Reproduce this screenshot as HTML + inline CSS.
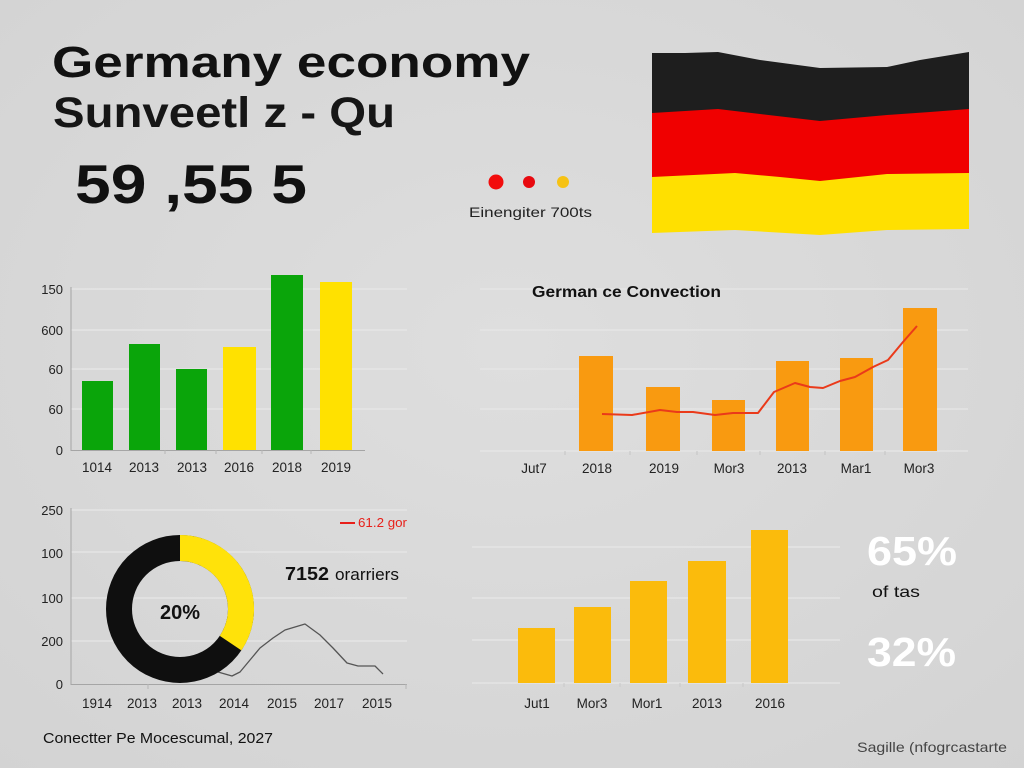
<!DOCTYPE html>
<html><head><meta charset="utf-8"><style>
html,body{margin:0;padding:0;background:#d9d9d9;}
svg{display:block;}
text{font-family:"Liberation Sans",sans-serif;}
</style></head><body>
<svg width="1024" height="768" viewBox="0 0 1024 768" xmlns="http://www.w3.org/2000/svg">
<defs>
<radialGradient id="bg" cx="50%" cy="45%" r="75%">
<stop offset="0" stop-color="#dedede"/><stop offset="1" stop-color="#d3d3d3"/>
</radialGradient>
</defs>
<rect width="1024" height="768" fill="url(#bg)"/>

<!-- Header -->
<text x="52" y="77" font-size="44" font-weight="bold" fill="#111" textLength="478" lengthAdjust="spacingAndGlyphs">Germany economy</text>
<text x="53" y="127" font-size="43" font-weight="bold" fill="#161616" textLength="342" lengthAdjust="spacingAndGlyphs">Sunveetl z - Qu</text>
<text x="75" y="203" font-size="55" font-weight="bold" fill="#111" textLength="232" lengthAdjust="spacingAndGlyphs">59 ,55 5</text>

<circle cx="496" cy="182" r="7.5" fill="#f20d0d"/>
<circle cx="529" cy="182" r="6" fill="#e8090f"/>
<circle cx="563" cy="182" r="6" fill="#f6c214"/>
<text x="469" y="217" font-size="14" fill="#222" textLength="123" lengthAdjust="spacingAndGlyphs">Einengiter 700ts</text>

<!-- Flag -->
<polygon fill="#1e1e1e" points="652,53 685,53 718,52 760,60 820,68 887,67 920,60 969,52 969,111 930,113 887,116 820,122 760,115 718,110 652,114"/>
<polygon fill="#f00000" points="652,113 718,109 760,114 820,121 887,115 930,112 969,109 969,174 887,175 820,182 780,178 735,174 652,178"/>
<polygon fill="#ffe000" points="652,177 735,173 780,177 820,181 887,174 969,173 969,229 887,230 820,235 735,230 652,233"/>

<!-- Chart 1 -->
<g stroke="#e7e7e7" stroke-width="1.2">
<line x1="71" y1="289" x2="407" y2="289"/>
<line x1="71" y1="330" x2="407" y2="330"/>
<line x1="71" y1="369" x2="407" y2="369"/>
<line x1="71" y1="409" x2="407" y2="409"/>
</g>
<line x1="71" y1="287" x2="71" y2="451" stroke="#a5a5a5" stroke-width="1"/>
<line x1="71" y1="450.5" x2="365" y2="450.5" stroke="#a5a5a5" stroke-width="1"/>
<g stroke="#b5b5b5"><line x1="165" y1="450" x2="165" y2="454"/><line x1="216" y1="450" x2="216" y2="454"/><line x1="262" y1="450" x2="262" y2="454"/><line x1="311" y1="450" x2="311" y2="454"/></g>
<g font-size="13" fill="#222" text-anchor="end">
<text x="63" y="294">150</text>
<text x="63" y="335">600</text>
<text x="63" y="374">60</text>
<text x="63" y="414">60</text>
<text x="63" y="455">0</text>
</g>
<rect x="82" y="381" width="31" height="69" fill="#0aa50a"/>
<rect x="129" y="344" width="31" height="106" fill="#0aa50a"/>
<rect x="176" y="369" width="31" height="81" fill="#0aa50a"/>
<rect x="223" y="347" width="33" height="103" fill="#ffe100"/>
<rect x="271" y="275" width="32" height="175" fill="#0aa50a"/>
<rect x="320" y="282" width="32" height="168" fill="#ffe100"/>
<g font-size="13.5" fill="#222" text-anchor="middle">
<text x="97" y="472">1014</text>
<text x="144" y="472">2013</text>
<text x="192" y="472">2013</text>
<text x="239" y="472">2016</text>
<text x="287" y="472">2018</text>
<text x="336" y="472">2019</text>
</g>

<!-- Chart 2 -->
<g stroke="#e7e7e7" stroke-width="1.2">
<line x1="480" y1="289" x2="968" y2="289"/>
<line x1="480" y1="330" x2="968" y2="330"/>
<line x1="480" y1="369" x2="968" y2="369"/>
<line x1="480" y1="409" x2="968" y2="409"/>
<line x1="480" y1="451" x2="968" y2="451"/>
</g>
<g stroke="#c4c4c4"><line x1="565" y1="451" x2="565" y2="455"/><line x1="630" y1="451" x2="630" y2="455"/><line x1="697" y1="451" x2="697" y2="455"/><line x1="760" y1="451" x2="760" y2="455"/><line x1="825" y1="451" x2="825" y2="455"/><line x1="885" y1="451" x2="885" y2="455"/></g>
<text x="532" y="297" font-size="15.5" font-weight="bold" fill="#111" textLength="189" lengthAdjust="spacingAndGlyphs">German ce Convection</text>
<g fill="#f99a10">
<rect x="579" y="356" width="34" height="95"/>
<rect x="646" y="387" width="34" height="64"/>
<rect x="712" y="400" width="33" height="51"/>
<rect x="776" y="361" width="33" height="90"/>
<rect x="840" y="358" width="33" height="93"/>
<rect x="903" y="308" width="34" height="143"/>
</g>
<polyline fill="none" stroke="#ea3a1a" stroke-width="2" stroke-linejoin="round" points="602,414 632,415 660,410 677,412 693,412 715,415 733,413 758,413 774,392 795,383 810,387 823,388 840,381 855,377 873,367 888,360 903,342 917,326"/>
<g font-size="13.5" fill="#222" text-anchor="middle">
<text x="534" y="473">Jut7</text>
<text x="597" y="473">2018</text>
<text x="664" y="473">2019</text>
<text x="729" y="473">Mor3</text>
<text x="792" y="473">2013</text>
<text x="856" y="473">Mar1</text>
<text x="919" y="473">Mor3</text>
</g>

<!-- Chart 3 -->
<g stroke="#e7e7e7" stroke-width="1.2">
<line x1="71" y1="510" x2="407" y2="510"/>
<line x1="71" y1="552" x2="407" y2="552"/>
<line x1="71" y1="598" x2="407" y2="598"/>
<line x1="71" y1="641" x2="407" y2="641"/>
</g>
<line x1="71" y1="508" x2="71" y2="685" stroke="#a5a5a5" stroke-width="1"/>
<line x1="71" y1="684.5" x2="407" y2="684.5" stroke="#a5a5a5" stroke-width="1"/>
<g stroke="#b5b5b5"><line x1="148" y1="684" x2="148" y2="689"/><line x1="406" y1="684" x2="406" y2="689"/></g>
<g font-size="13" fill="#222" text-anchor="end">
<text x="63" y="515">250</text>
<text x="63" y="558">100</text>
<text x="63" y="603">100</text>
<text x="63" y="646">200</text>
<text x="63" y="689">0</text>
</g>
<polyline fill="none" stroke="#555" stroke-width="1.3" stroke-linejoin="round" points="218,672 232,676 240,672 250,660 260,648 273,638 285,630 305,624 320,635 333,648 347,663 358,666 375,666 383,674"/>
<circle cx="180" cy="609" r="61" fill="none" stroke="#0f0f0f" stroke-width="26"/>
<path d="M180,548 A61,61 0 0 1 230.6,643.1" fill="none" stroke="#ffe20a" stroke-width="26"/>
<text x="180" y="619" font-size="20" font-weight="bold" fill="#111" text-anchor="middle">20%</text>
<line x1="340" y1="523" x2="355" y2="523" stroke="#e8201a" stroke-width="2"/>
<text x="358" y="527" font-size="13" fill="#e8201a" textLength="49" lengthAdjust="spacingAndGlyphs">61.2 gor</text>
<text x="285" y="580" font-size="18" font-weight="bold" fill="#111" textLength="44" lengthAdjust="spacingAndGlyphs">7152</text>
<text x="335" y="580" font-size="17" fill="#111" textLength="64" lengthAdjust="spacingAndGlyphs">orarriers</text>
<g font-size="13.5" fill="#222" text-anchor="middle">
<text x="97" y="708">1914</text>
<text x="142" y="708">2013</text>
<text x="187" y="708">2013</text>
<text x="234" y="708">2014</text>
<text x="282" y="708">2015</text>
<text x="329" y="708">2017</text>
<text x="377" y="708">2015</text>
</g>
<text x="43" y="743" font-size="15" fill="#111" textLength="230" lengthAdjust="spacingAndGlyphs">Conectter Pe Mocescumal, 2027</text>

<!-- Chart 4 -->
<g stroke="#e7e7e7" stroke-width="1.2">
<line x1="472" y1="547" x2="840" y2="547"/>
<line x1="472" y1="598" x2="840" y2="598"/>
<line x1="472" y1="640" x2="840" y2="640"/>
<line x1="472" y1="683" x2="840" y2="683"/>
</g>
<g stroke="#c8c8c8"><line x1="564" y1="683" x2="564" y2="687"/><line x1="620" y1="683" x2="620" y2="687"/><line x1="680" y1="683" x2="680" y2="687"/><line x1="743" y1="683" x2="743" y2="687"/></g>
<g fill="#fbbb0c">
<rect x="518" y="628" width="37" height="55"/>
<rect x="574" y="607" width="37" height="76"/>
<rect x="630" y="581" width="37" height="102"/>
<rect x="688" y="561" width="38" height="122"/>
<rect x="751" y="530" width="37" height="153"/>
</g>
<g font-size="13.5" fill="#222" text-anchor="middle">
<text x="537" y="708">Jut1</text>
<text x="592" y="708">Mor3</text>
<text x="647" y="708">Mor1</text>
<text x="707" y="708">2013</text>
<text x="770" y="708">2016</text>
</g>
<text x="867" y="565" font-size="41" font-weight="bold" fill="#ffffff" textLength="90" lengthAdjust="spacingAndGlyphs">65%</text>
<text x="872" y="597" font-size="16" fill="#111" textLength="48" lengthAdjust="spacingAndGlyphs">of tas</text>
<text x="867" y="666" font-size="41" font-weight="bold" fill="#ffffff" textLength="89" lengthAdjust="spacingAndGlyphs">32%</text>
<text x="857" y="752" font-size="14" fill="#444" textLength="150" lengthAdjust="spacingAndGlyphs">Sagille (nfogrcastarte</text>
</svg>
</body></html>
